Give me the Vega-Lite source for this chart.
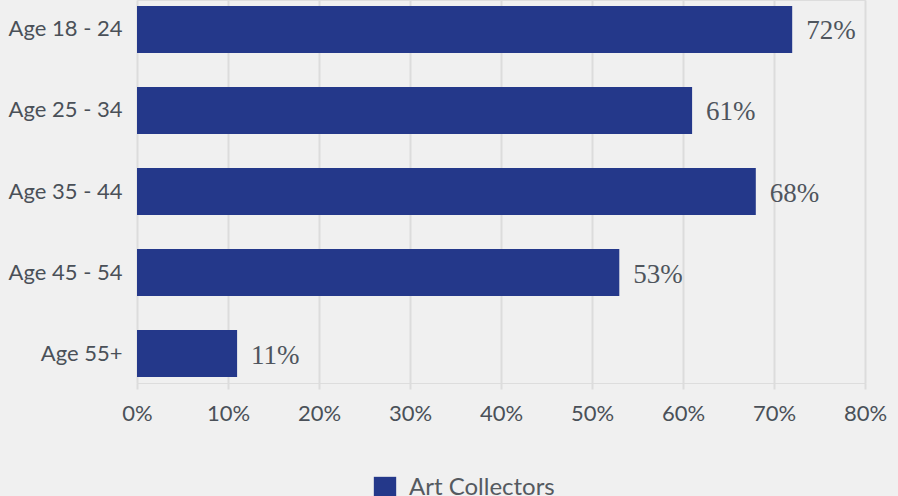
{
  "$schema": "https://vega.github.io/schema/vega-lite/v6.json",
  "autosize": "none",
  "width": 728,
  "height": 383,
  "padding": {"left": 137, "top": 0, "right": 33, "bottom": 113},
  "background": "#f0f0f0",
  "data": {
    "values": [
      {"age": "Age 18 - 24", "pct": 72, "series": "Art Collectors"},
      {"age": "Age 25 - 34", "pct": 61, "series": "Art Collectors"},
      {"age": "Age 35 - 44", "pct": 68, "series": "Art Collectors"},
      {"age": "Age 45 - 54", "pct": 53, "series": "Art Collectors"},
      {"age": "Age 55+", "pct": 11, "series": "Art Collectors"}
    ]
  },
  "encoding": {
    "y": {
      "field": "age",
      "type": "nominal",
      "sort": null,
      "title": null,
      "scale": {"paddingInner": 0.42, "paddingOuter": 0.074},
      "axis": {
        "domain": false,
        "ticks": false,
        "grid": false,
        "labelFont": "Lato",
        "labelFontSize": 22,
        "labelColor": "#4a5058",
        "labelPadding": 15
      }
    },
    "x": {
      "field": "pct",
      "type": "quantitative",
      "title": null,
      "scale": {"domain": [0, 80], "nice": false},
      "axis": {
        "values": [0, 10, 20, 30, 40, 50, 60, 70, 80],
        "labelExpr": "datum.value + '%'",
        "domain": false,
        "grid": true,
        "gridColor": "#dcdcdc",
        "gridWidth": 2,
        "ticks": true,
        "tickColor": "#dcdcdc",
        "tickWidth": 2,
        "tickSize": 6,
        "labelFont": "Lato",
        "labelFontSize": 22,
        "labelColor": "#4a5058",
        "labelPadding": 14,
        "labelFlush": false
      }
    }
  },
  "layer": [
    {
      "mark": {"type": "bar"},
      "encoding": {
        "color": {
          "field": "series",
          "type": "nominal",
          "scale": {"range": ["#24388a"]},
          "legend": {
            "title": null,
            "orient": "none",
            "legendX": 236,
            "legendY": 476,
            "symbolType": "square",
            "symbolSize": 500,
            "symbolStrokeWidth": 0,
            "symbolOpacity": 1,
            "labelFont": "Lato",
            "labelFontSize": 24,
            "labelColor": "#555a60",
            "labelOffset": 12
          }
        }
      }
    },
    {
      "mark": {
        "type": "text",
        "align": "left",
        "baseline": "middle",
        "dx": 14,
        "dy": 2,
        "font": "Liberation Serif",
        "fontSize": 27,
        "color": "#4f555d",
        "text": {"expr": "datum.pct + '%'"}
      },
      "encoding": {}
    }
  ]
}
